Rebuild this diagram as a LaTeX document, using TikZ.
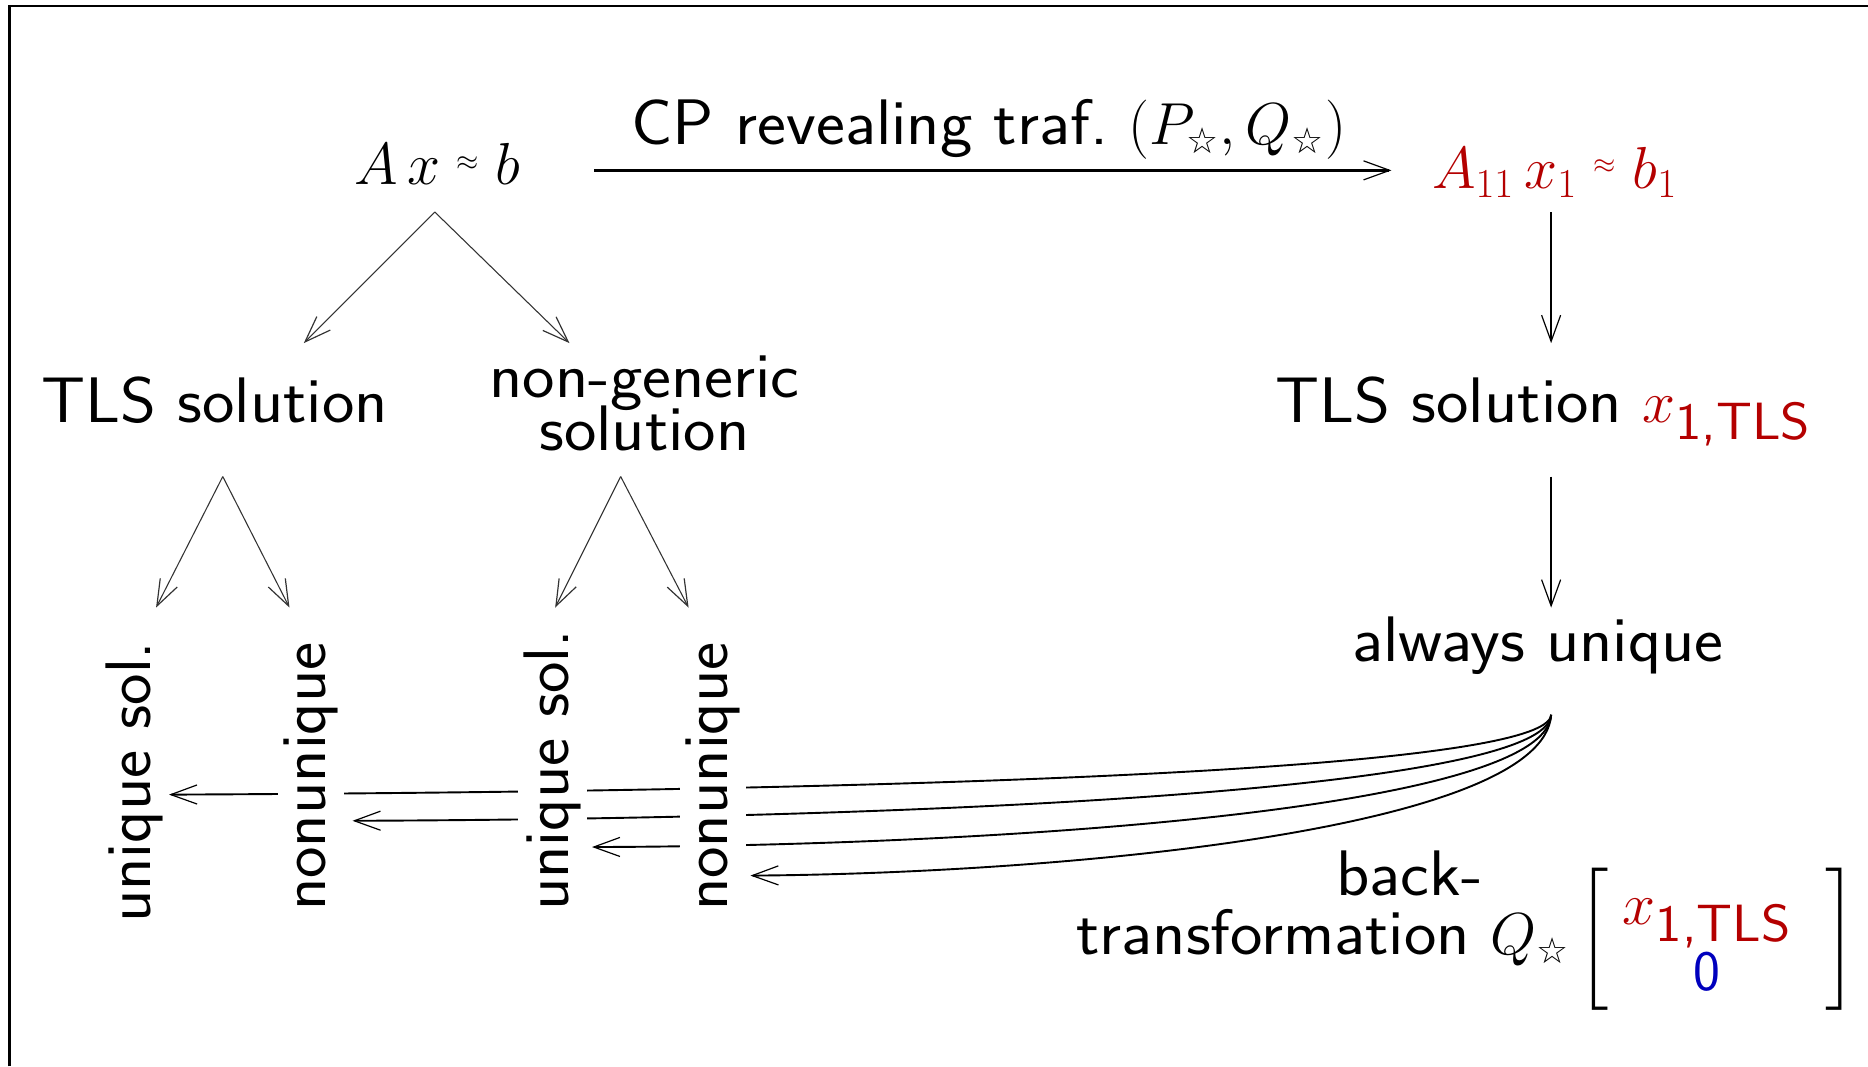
\documentclass[tikz,border=0pt]{standalone}
\usepackage{fontspec}
\usepackage{amsmath}
\usepackage{graphicx}
\usetikzlibrary{arrows.meta,backgrounds,calc}
\newfontfamily\starfont{DejaVu Sans}
\definecolor{tlsred}{RGB}{180,0,0}
\definecolor{zeroblue}{RGB}{0,0,190}
\DeclareMathSizes{23}{23}{17.5}{12}
% slightly widened sans labels
\newcommand{\hx}[1]{\scalebox{1.07}[1]{#1}}
\newcommand{\vx}[1]{\scalebox{1.04}[1]{#1}}
\newcommand{\wst}{\mbox{\starfont\fontsize{15}{15}\selectfont ☆}}
\newcommand{\tlssub}{\raisebox{4.5pt}{\fontsize{22}{22}\selectfont\sffamily\hx{1,TLS}}}
\newcommand{\mathsz}{\fontsize{23}{27}\selectfont}
% small, raised approximation sign
\newcommand{\sapprox}{\mathrel{\raisebox{6pt}{$\scriptscriptstyle\approx$}}}

\begin{document}
\begin{tikzpicture}[x=0.5pt,y=-0.5pt,
  lbl/.style={font=\sffamily\fontsize{27}{22}\selectfont, inner sep=0pt},
  rlbl/.style={font=\sffamily\fontsize{27}{22}\selectfont, rotate=90, fill=white, inner sep=2.5pt, anchor=base west},
  mth/.style={font=\mathsz, inner sep=0pt},
  tip/.style={-{Straight Barb[length=11pt,width=8pt,line width=0.5pt]}},
  link/.style={tip, line width=1pt},
  branch/.style={tip, line width=0.45pt, draw=black!80},
  back/.style={tip, line width=0.8pt},
  frame/.style={line width=1.2pt}
]
\useasboundingbox (0,0) rectangle (1568,895);
\draw[frame] (8,895) -- (8,5) -- (1568,5);

% top row
\node[mth, anchor=base] (ax) at (367,155) {$A\,x \sapprox b$};
\node[lbl, anchor=base] (cplbl) at (830,121) {\hx{CP revealing traf.} {\mathsz$(P_{\wst},Q_{\wst})$}};
\node[mth, anchor=base, text=tlsred] (a11) at (1305,158) {$A_{11}\,x_1 \sapprox b_1$};

% second row
\node[lbl, anchor=base] (tlsl) at (180,355) {\hx{TLS solution}};
\node[lbl, align=center] (nongen) at (541,339) {\hx{non-generic}\\[-3pt]\hx{solution}};
\node[lbl, anchor=base west] (tlsr) at (1070,355) {\hx{TLS solution} {\mathsz\color{tlsred}$x_{\tlssub}$}};

% third row
\node[lbl, anchor=base] (always) at (1291,555) {\hx{always unique}};

% rotated leaves
\node[rlbl] (us1) at (126,780) {\vx{unique sol.}};
\node[rlbl] (nu1) at (273,770) {\vx{nonunique}};
\node[rlbl] (us2) at (477,770) {\vx{unique sol.}};
\node[rlbl] (nu2) at (611,770) {\vx{nonunique}};

% back-transformation label
\node[lbl, anchor=base east] (backw) at (1245,752) {\hx{back-}};
\node[lbl, anchor=base west] (transf) at (903,801) {\hx{transformation} {\mathsz$Q_{\wst}$}};
\node[mth, anchor=base west] (vec) at ([xshift=3pt]transf.base east) {$%
  \delimitershortfall=0pt\delimiterfactor=1000
  \left[\hspace{6pt}
  \renewcommand{\arraystretch}{0.83}%
  \raisebox{-3pt}{$\begin{array}{@{}c@{}}
    \color{tlsred}x_{\tlssub}\\[2.5pt]
    \color{zeroblue}\mbox{\fontsize{24}{24}\selectfont\sffamily 0}
  \end{array}$}\hspace{14pt}\right]$};

% branch points and arrow ends
\coordinate (axsplit) at (365,178);
\coordinate (toTLS) at (255,288);
\coordinate (toNG) at (478,288);
\coordinate (tlssplit) at (187,400);
\coordinate (toUS1) at (131,510);
\coordinate (toNU1) at (243,510);
\coordinate (ngsplit) at (521,400);
\coordinate (toUS2) at (466,510);
\coordinate (toNU2) at (578,510);
\coordinate (cpstart) at (499,143);
\coordinate (cpend) at (1168,143);
\coordinate (v1s) at (1302,178);
\coordinate (v1e) at (1302,288);
\coordinate (v2s) at (1302,400);
\coordinate (v2e) at (1302,510);
\coordinate (fan) at (1302,600);

\draw[link] (cpstart) -- (cpend);
\draw[link] (v1s) -- (v1e);
\draw[link] (v2s) -- (v2e);

\draw[branch] (axsplit) -- (toTLS);
\draw[branch] (axsplit) -- (toNG);
\draw[branch] (tlssplit) -- (toUS1);
\draw[branch] (tlssplit) -- (toNU1);
\draw[branch] (ngsplit) -- (toUS2);
\draw[branch] (ngsplit) -- (toNU2);

% back-transformation fan, passing behind the leaf labels
\begin{pgfonlayer}{background}
\draw[back] (fan) .. controls (1300,645) and (800,664) .. (us1.south |- 0,667);
\draw[back, shorten >=3.5pt] (fan) .. controls (1299,662) and (800,687) .. (nu1.south |- 0,689);
\draw[back, shorten >=2pt] (fan) .. controls (1298,678) and (850,710) .. (us2.south |- 0,711);
\draw[back, shorten >=1.5pt] (fan) .. controls (1296,695) and (900,733) .. (nu2.south |- 0,735);
\end{pgfonlayer}
\end{tikzpicture}
\end{document}
